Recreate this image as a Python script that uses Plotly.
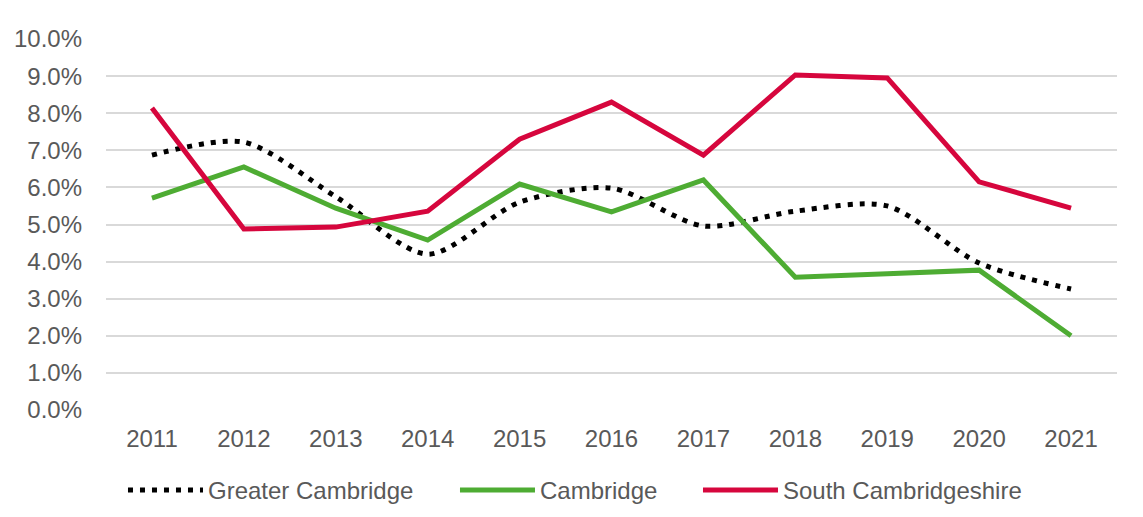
import plotly.graph_objects as go

years = [2011, 2012, 2013, 2014, 2015, 2016, 2017, 2018, 2019, 2020, 2021]
greater_cambridge = [6.87, 7.22, 5.75, 4.2, 5.6, 5.98, 4.96, 5.36, 5.5, 3.96, 3.26]
cambridge = [5.71, 6.55, 5.44, 4.58, 6.09, 5.34, 6.2, 3.58, 3.67, 3.77, 2.0]
south_cambs = [8.14, 4.88, 4.93, 5.36, 7.3, 8.3, 6.87, 9.03, 8.95, 6.15, 5.44]
y_ticks = [0, 1, 2, 3, 4, 5, 6, 7, 8, 9, 10]

fig = go.Figure()
fig.add_trace(go.Scatter(x=years, y=greater_cambridge, name="Greater Cambridge", mode="lines",
                         legendwidth=242,
                         line=dict(color="black", width=5, dash="5px,7px", shape="spline", smoothing=0.8)))
fig.add_trace(go.Scatter(x=years, y=cambridge, name="Cambridge", mode="lines",
                         legendwidth=153,
                         line=dict(color="#4EAC33", width=5)))
fig.add_trace(go.Scatter(x=years, y=south_cambs, name="South Cambridgeshire", mode="lines",
                         legendwidth=245,
                         line=dict(color="#D6063D", width=5)))

font = "Liberation Sans, Arial, sans-serif"
fig.update_layout(
    width=1143, height=517,
    margin=dict(l=98, r=34, t=31, b=115),
    paper_bgcolor="white", plot_bgcolor="white",
    font=dict(family=font, size=24, color="#595959"),
    showlegend=True,
    legend=dict(orientation="h", x=0.0168, xanchor="left", y=-0.156, yanchor="top",
                font=dict(size=24, color="#595959"), itemwidth=75),
    xaxis=dict(range=[2010.5, 2021.5], tickmode="array", tickvals=years,
               ticktext=[str(y) for y in years], showgrid=False, zeroline=False,
               showline=False, ticks="", ticklen=0, ticklabelstandoff=12, automargin=False),
    yaxis=dict(range=[0, 10], tickmode="array", tickvals=y_ticks,
               ticktext=[f"{v:.1f}%" for v in y_ticks], showgrid=True,
               gridcolor="#D9D9D9", gridwidth=1.5, zeroline=False, showline=False, ticks="",
               ticklabelstandoff=23, automargin=False),
)
fig.write_html("out.html")
